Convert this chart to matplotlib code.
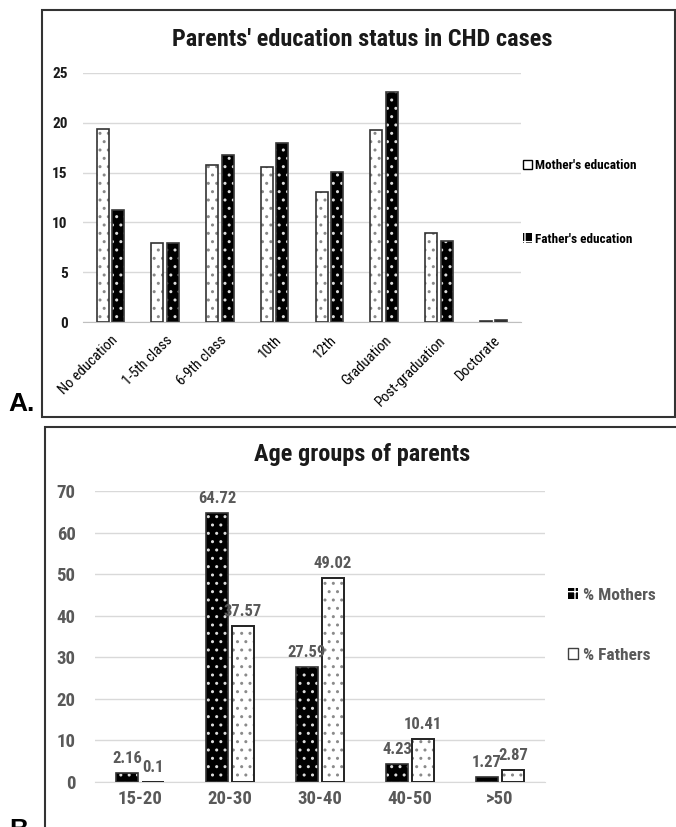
import numpy as np
import matplotlib.pyplot as plt
from matplotlib import font_manager
from matplotlib.patches import Rectangle

# fonte estreita, se houver
available = {f.name for f in font_manager.fontManager.ttflist}
narrow_opts = ['Liberation Sans Narrow', 'Arial Narrow', 'Roboto Condensed',
               'Open Sans Condensed', 'DejaVu Sans']
narrow = next(n for n in narrow_opts if n in available or n == 'DejaVu Sans')
plt.rcParams['font.family'] = [narrow, 'DejaVu Sans']
plt.rcParams['font.stretch'] = 'condensed'
plt.rcParams['hatch.linewidth'] = 1.0

# Dados - escolaridade dos pais
edu_categories = ['No education', '1-5th class', '6-9th class', '10th', '12th',
                  'Graduation', 'Post-graduation', 'Doctorate']
mother_edu = [19.4, 7.9, 15.8, 15.6, 13.1, 19.3, 8.9, 0.1]
father_edu = [11.2, 7.9, 16.8, 18.0, 15.1, 23.1, 8.1, 0.2]

# Dados - faixas etarias
age_groups = ['15-20', '20-30', '30-40', '40-50', '>50']
mothers_pct = [2.16, 64.72, 27.59, 4.23, 1.27]
fathers_pct = [0.1, 37.57, 49.02, 10.41, 2.87]

W, H = 676, 827
fig = plt.figure(figsize=(W / 100, H / 100), dpi=100)


def fx(px):
    return px / W


def fy(py):
    return (H - py) / H


grid_col = '#d9d9d9'
gray_txt = '#595959'

# ---------- A. education ----------
ax1 = fig.add_axes([fx(83), fy(322), fx(521) - fx(83), fy(73) - fy(322)])
x1 = np.arange(len(edu_categories))
bw = 0.22
# white bars, dotted
ax1.bar(x1 - 0.14, mother_edu, bw, color='white', edgecolor='#888888', hatch='..',
        linewidth=0, zorder=2)
ax1.bar(x1 - 0.14, mother_edu, bw, fill=False, edgecolor='#333333', linewidth=1.2, zorder=3)
# black bars with white dots
ax1.bar(x1 + 0.14, father_edu, bw, color='black', edgecolor='#dddddd', hatch='..',
        linewidth=0, zorder=2)
ax1.bar(x1 + 0.14, father_edu, bw, fill=False, edgecolor='#3a3a3a', linewidth=1.2, zorder=3)

ax1.set_xlim(-0.5, len(edu_categories) - 0.5)
ax1.set_ylim(0, 25)
ax1.set_yticks(range(0, 26, 5))
ax1.grid(axis='y', color=grid_col, linewidth=1, zorder=0)
ax1.set_axisbelow(True)
for s in ['top', 'right', 'left']:
    ax1.spines[s].set_visible(False)
ax1.spines['bottom'].set_color('#bfbfbf')
ax1.tick_params(axis='both', length=0)
ax1.tick_params(axis='y', pad=11, labelsize=11, labelcolor='#1a1a1a')
for t in ax1.get_yticklabels():
    t.set_fontweight('bold')
ax1.set_xticks(x1)
ax1.set_xticklabels(edu_categories, rotation=45, ha='right', rotation_mode='anchor',
                    fontsize=10.5, color='black')
ax1.tick_params(axis='x', pad=8)

h_m = Rectangle((0, 0), 1, 1, facecolor='white', edgecolor='black', linewidth=1)
h_f = Rectangle((0, 0), 1, 1, facecolor='black', edgecolor='white', hatch='+', linewidth=0)
fig.legend([h_m, h_f], ["Mother's education", "Father's education"],
           loc='center left', bbox_to_anchor=(fx(516), fy(202.5)), frameon=False,
           borderpad=0, handlelength=0.75, handleheight=0.75, handletextpad=0.2,
           labelspacing=4.6, prop={'weight': 'bold', 'size': 9.5})

fig.text(fx(362), fy(39), "Parents' education status in CHD cases", ha='center', va='center',
         fontsize=17.5, fontweight='bold', color='#1a1a1a')

# ---------- B. age groups ----------
ax2 = fig.add_axes([fx(95), fy(782), fx(545) - fx(95), fy(491) - fy(782)])
x2 = np.arange(len(age_groups))
bw2 = 0.235
ax2.bar(x2 - 0.145, mothers_pct, bw2, color='black', edgecolor='#dddddd', hatch='..',
        linewidth=0, zorder=2)
mb = ax2.bar(x2 - 0.145, mothers_pct, bw2, fill=False, edgecolor='#333333', linewidth=1.2,
             zorder=3)
ax2.bar(x2 + 0.145, fathers_pct, bw2, color='white', edgecolor='#8a8a8a', hatch='..',
        linewidth=0, zorder=2)
fb = ax2.bar(x2 + 0.145, fathers_pct, bw2, fill=False, edgecolor='#222222', linewidth=1.4,
             zorder=3)
ax2.bar_label(mb, labels=[f'{v:g}' for v in mothers_pct], padding=5, fontsize=12,
              fontweight='bold', color=gray_txt)
ax2.bar_label(fb, labels=[f'{v:g}' for v in fathers_pct], padding=5, fontsize=12,
              fontweight='bold', color=gray_txt)

ax2.set_xlim(-0.5, len(age_groups) - 0.5)
ax2.set_ylim(0, 70)
ax2.set_yticks(range(0, 71, 10))
ax2.grid(axis='y', color=grid_col, linewidth=1, zorder=0)
ax2.set_axisbelow(True)
for s in ['top', 'right', 'left']:
    ax2.spines[s].set_visible(False)
ax2.spines['bottom'].set_color(grid_col)
ax2.tick_params(axis='both', length=0, labelsize=13.5, labelcolor=gray_txt)
ax2.tick_params(axis='y', pad=14)
ax2.tick_params(axis='x', pad=6)
ax2.set_xticks(x2)
ax2.set_xticklabels(age_groups)
for t in ax2.get_xticklabels() + ax2.get_yticklabels():
    t.set_fontweight('bold')

h_mo = Rectangle((0, 0), 1, 1, facecolor='black', edgecolor='white', hatch='+', linewidth=0)
h_fa = Rectangle((0, 0), 1, 1, facecolor='white', edgecolor='#404040', linewidth=1)
fig.legend([h_mo, h_fa], ['% Mothers', '% Fathers'],
           loc='center left', bbox_to_anchor=(fx(559), fy(625.5)), frameon=False,
           borderpad=0, handlelength=0.6, handleheight=0.6, handletextpad=0.3,
           labelspacing=2.6, labelcolor=gray_txt, prop={'weight': 'bold', 'size': 12.5})

fig.text(fx(362), fy(454), 'Age groups of parents', ha='center', va='center',
         fontsize=17.5, fontweight='bold', color='#1a1a1a')

# molduras e letras dos paineis
fig.add_artist(Rectangle((fx(42), fy(417)), fx(675) - fx(42), fy(10) - fy(417),
                         transform=fig.transFigure, fill=False, edgecolor='#333333',
                         linewidth=1.5))
fig.add_artist(Rectangle((fx(45), -0.05), 1.0, fy(427) + 0.05,
                         transform=fig.transFigure, fill=False, edgecolor='#333333',
                         linewidth=1.5))
fig.text(fx(8), fy(404), 'A.', ha='left', va='center', fontsize=19, fontweight='bold',
         family=['Liberation Sans', 'DejaVu Sans'], stretch='normal')
fig.text(fx(9), fy(818), 'B.', ha='left', va='top', fontsize=19, fontweight='bold',
         family=['Liberation Sans', 'DejaVu Sans'], stretch='normal')

fig.savefig('out.png', dpi=100)
